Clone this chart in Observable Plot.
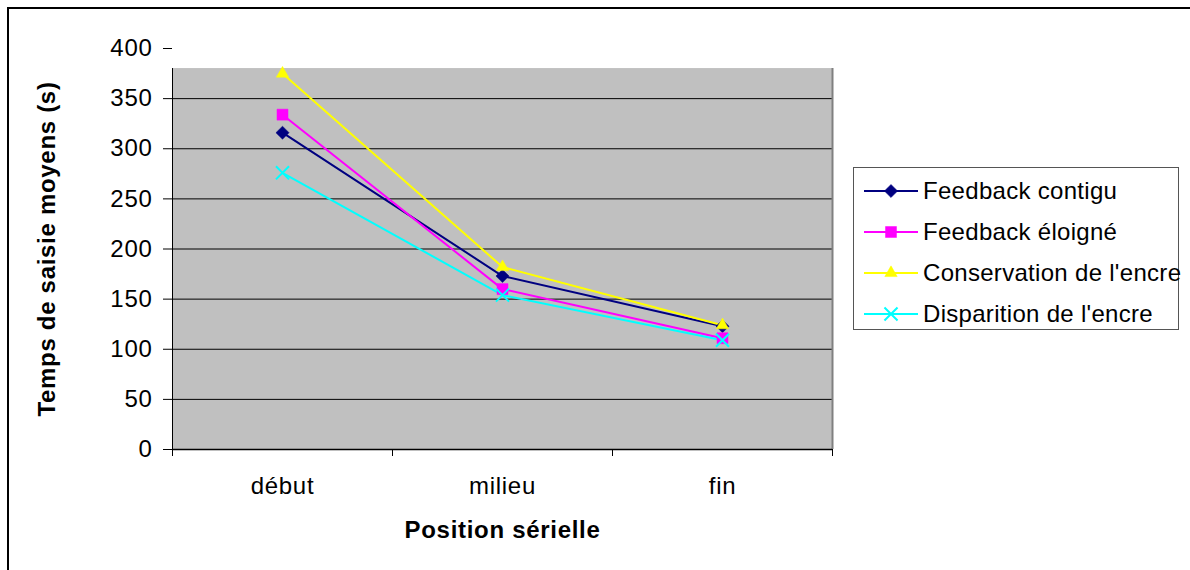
<!DOCTYPE html>
<html>
<head>
<meta charset="utf-8">
<script src="https://cdn.jsdelivr.net/npm/d3@7"></script>
<script src="https://cdn.jsdelivr.net/npm/@observablehq/plot@0.6"></script>
<style>
  body { margin: 0; background: #fff; font-family: "Liberation Sans", Arial, sans-serif; }
  #wrap { position: relative; width: 1190px; height: 570px; overflow: hidden; }
  .bt { position: absolute; left: 7px; top: 7px; right: 0; height: 0; border-top: 2px solid #000; }
  .bl { position: absolute; left: 7px; top: 7px; bottom: 0; width: 0; border-left: 2px solid #000; }
  #legend { position: absolute; left: 853px; top: 167px; width: 326px; height: 163px; border: 1px solid #555; background: #fff; box-sizing: border-box; }
  .row { position: absolute; left: 0; height: 41px; display: flex; align-items: center; font-size: 24px; letter-spacing: 0.3px; color: #000; white-space: nowrap; }
  .row svg { margin-left: 9px; margin-right: 4px; }
</style>
</head>
<body>
<div id="wrap"></div>
<script>
// ---- data ----
const categories = ["début", "milieu", "fin"];
const seriesNames = ["Feedback contigu", "Feedback éloigné", "Conservation de l'encre", "Disparition de l'encre"];
const contigu = [316, 173, 123];
const eloigne = [334, 160, 111];
const conservation = [375, 182, 124];
const disparition = [276, 154, 109];
const seriesColors = ["#000080", "#FF00FF", "#FFFF00", "#00FFFF"];
const seriesSymbols = ["diamond2", "square", "triangle", "times"];
const yTicks = [0, 50, 100, 150, 200, 250, 300, 350, 400];
const plotAreaTop = 380;
const yTitle = "Temps de saisie moyens (s)";
const xTitle = "Position sérielle";

const seriesValues = [contigu, eloigne, conservation, disparition];
const data = [];
seriesNames.forEach((s, si) => {
  seriesValues[si].forEach((v, ci) => {
    data.push({serie: s, si, cat: categories[ci], x: ci + 0.5, value: v});
  });
});

const symbolR = [5.9, 6.2, 4.6, 6];

const marks = [
  Plot.rect([{}], {x1: 0, x2: categories.length, y1: 0, y2: plotAreaTop, fill: "#C0C0C0"}),
  Plot.ruleY(yTicks.filter(t => t > 0 && t < plotAreaTop), {stroke: "#000", strokeWidth: 1}),
  Plot.ruleX([categories.length], {y1: 0, y2: plotAreaTop, stroke: "#808080", strokeWidth: 2}),
  Plot.ruleX([0], {y1: 0, y2: plotAreaTop, stroke: "#000", strokeWidth: 1}),
  Plot.ruleY([0], {stroke: "#000", strokeWidth: 1.5}),
  Plot.axisY({ticks: yTicks, tickSize: 9, tickPadding: 11, fontSize: 24, label: null, tickFormat: d => String(d)}),
  Plot.axisX({ticks: d3.range(categories.length + 1), tickSize: 7, tickFormat: () => "", label: null}),
  Plot.axisX({ticks: categories.map((c, i) => i + 0.5), tickSize: 0, tickPadding: 27, fontSize: 24, label: null,
              tickFormat: d => categories[Math.floor(d)]}),
  Plot.text([yTitle], {frameAnchor: "left", textAnchor: "middle", lineAnchor: "middle", rotate: -90, dx: -125, fontWeight: "bold", fontSize: 24}),
  Plot.text([xTitle], {frameAnchor: "bottom", textAnchor: "middle", lineAnchor: "middle", dy: 81, fontWeight: "bold", fontSize: 24})
];
seriesNames.forEach((s, si) => {
  marks.push(Plot.line(data.filter(d => d.si === si), {x: "x", y: "value", stroke: seriesColors[si], strokeWidth: 2}));
});
seriesNames.forEach((s, si) => {
  const filled = seriesSymbols[si] !== "times";
  marks.push(Plot.dot(data.filter(d => d.si === si), {
    x: "x", y: "value", symbol: () => seriesSymbols[si], r: symbolR[si],
    fill: filled ? seriesColors[si] : "none",
    stroke: seriesColors[si], strokeWidth: filled ? 0.5 : 2
  }));
});

const chart = Plot.plot({
  width: 1190, height: 570,
  marginLeft: 172, marginRight: 358, marginTop: 48, marginBottom: 121,
  x: {type: "linear", domain: [0, categories.length]},
  y: {domain: [0, 400]},
  symbol: {type: "identity"},
  style: {fontFamily: "'Liberation Sans', Arial, sans-serif", fontSize: "24px", letterSpacing: "0.7px", background: "transparent", color: "#000"},
  marks
});

const wrap = document.getElementById("wrap");
wrap.appendChild(chart);
chart.style.position = "absolute"; chart.style.left = "0"; chart.style.top = "0";
const bt = document.createElement("div"); bt.className = "bt"; wrap.appendChild(bt);
const bl = document.createElement("div"); bl.className = "bl"; wrap.appendChild(bl);

// legend
const legend = document.createElement("div");
legend.id = "legend";
seriesNames.forEach((s, si) => {
  const row = document.createElement("div");
  row.className = "row";
  row.style.top = (2 + 41 * si) + "px";
  const svg = d3.create("svg").attr("width", 56).attr("height", 20);
  svg.append("line").attr("x1", 1).attr("x2", 55).attr("y1", 10).attr("y2", 10)
    .attr("stroke", seriesColors[si]).attr("stroke-width", 2);
  const symMap = {diamond2: d3.symbolDiamond2, square: d3.symbolSquare, triangle: d3.symbolTriangle, times: d3.symbolTimes};
  const filled = seriesSymbols[si] !== "times";
  svg.append("path").attr("transform", "translate(28,10)")
    .attr("d", d3.symbol(symMap[seriesSymbols[si]], Math.PI * symbolR[si] * symbolR[si])())
    .attr("fill", filled ? seriesColors[si] : "none")
    .attr("stroke", seriesColors[si]).attr("stroke-width", filled ? 0.5 : 2);
  row.appendChild(svg.node());
  const span = document.createElement("span");
  span.textContent = s;
  row.appendChild(span);
  legend.appendChild(row);
});
wrap.appendChild(legend);
</script>
</body>
</html>
